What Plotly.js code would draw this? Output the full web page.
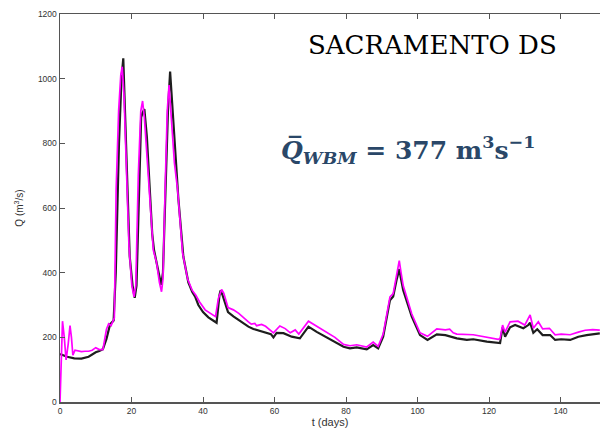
<!DOCTYPE html>
<html>
<head>
<meta charset="utf-8">
<script src="https://cdn.plot.ly/plotly-3.0.1.min.js"></script>
<style>html,body{margin:0;padding:0;background:#fff;}#chart{width:600px;height:432px;}</style>
</head>
<body>
<div id="chart"></div>
<script>
// Observed / reference (black) series
const tBlack = [0,2,4,6,8,10,11,12,13,14,15,15.6,16.5,17.2,17.7,18.2,18.8,19.5,20.3,20.9,21.4,22.1,22.7,23.1,23.6,24.3,25.2,25.8,26.3,27,27.8,28.3,28.8,29.4,30.2,30.8,31.5,32.2,33.1,34.5,35.9,37,37.8,38.7,40,41.5,43,43.8,44.6,44.9,45.5,47,48.5,50,52.7,54.1,57.3,59,59.7,60.6,62.5,64.8,67.1,69.5,71.8,75.1,76.9,79.3,81.1,83,85.8,87.6,89,90.4,92.3,93.2,94.2,94.9,95.4,96,98.4,100.7,102.8,105.4,107.8,111,113.8,115.6,119.4,122.6,123.1,123.8,124.5,125.9,127.3,129.6,131,131.5,132.4,133.5,135,137.1,138.5,140.2,142.7,145,147.3,151];
const qBlack = [148,140,135,134,140,154,158,163,195,240,252,400,800,1000,1063,900,650,450,360,322,360,690,880,895,906,820,656,520,470,430,380,362,400,650,900,1022,900,760,630,450,370,340,326,300,278,262,252,245,330,345,330,278,265,254,233,226,217,210,200,214,213,202,197,233,217,197,185,171,166,169,163,176,166,202,315,326,380,411,380,346,264,207,192,209,207,197,192,194,187,181,182,231,202,231,238,228,238,245,214,225,207,207,192,194,192,202,207,212];

// Model (magenta) series
const tMagenta = [0,0.3,0.7,1.2,1.7,2.3,2.8,3.2,3.6,4.2,5,6,7,8,9,10,11,12,13,13.6,14.3,15.2,15.7,16.4,17,17.4,17.9,18.6,19.3,20.1,20.7,21.2,21.9,22.6,23.1,23.6,24.2,24.9,25.6,26.1,27,27.8,28.4,28.8,29.4,30,30.5,31.2,32,32.9,34.3,35.7,37,38,39,40.6,42,43.5,44.3,45.2,45.8,47,48.5,50,52.7,53.5,54.5,55,56.4,57.5,59.7,61.5,63,64.4,65.8,66.8,69.5,71.8,75,76.9,79.3,81.1,83,85.8,87.6,89,90.4,92.3,93.2,94.2,94.9,95.4,96,98.4,100.7,102.8,105.4,107.8,109,110,111,115.6,119.4,122.6,123.1,123.8,124.5,125.9,128.1,130,131.5,132.4,133.8,135,136.9,138.5,140.2,142.7,145,146.9,149,151];
const qMagenta = [0,150,250,200,130,180,236,200,145,160,158,156,157,157,160,168,162,162,225,242,236,260,656,900,1010,1037,950,700,480,360,325,360,700,900,931,880,780,656,520,470,432,370,341,380,656,900,980,880,740,656,460,380,345,330,310,285,274,264,320,348,337,292,285,274,248,241,243,236,240,234,214,235,227,214,223,210,250,235,215,200,178,174,177,170,185,172,210,325,335,400,437,400,360,272,214,203,226,223,225,214,210,208,200,194,196,238,216,248,250,238,269,228,248,226,228,208,210,208,216,222,224,222];

const xTicks = [0,20,40,60,80,100,120,140];
const yTicks = [0,200,400,600,800,1000,1200];
const stationName = "SACRAMENTO DS";
const meanLabel = "<b><i>Q̅</i><sub><i>WBM</i></sub> = 377 m<sup>3</sup>s<sup>−1</sup></b>";

const traces = [
  {x: tBlack, y: qBlack, type: 'scatter', mode: 'lines', line: {color: '#1e1e1e', width: 2.2}, showlegend: false},
  {x: tMagenta, y: qMagenta, type: 'scatter', mode: 'lines', line: {color: '#ff00ff', width: 1.7}, showlegend: false}
];

const axisFont = {family: 'Liberation Sans, Arial, sans-serif', size: 8.5, color: '#333'};

const layout = {
  width: 600, height: 432,
  margin: {l: 60, r: 0, t: 14, b: 30, pad: 0},
  paper_bgcolor: '#fff', plot_bgcolor: '#fff',
  xaxis: {
    range: [0, 151.05], tickvals: xTicks, ticktext: xTicks.map(String),
    ticks: 'inside', ticklen: 5, tickcolor: '#555', tickwidth: 1,
    showline: true, linecolor: '#555', linewidth: 1.5, mirror: 'ticks',
    showgrid: false, zeroline: false, tickfont: axisFont,
    title: {text: 't (days)', font: {family: 'Liberation Sans, Arial, sans-serif', size: 11, color: '#333'}, standoff: 2}
  },
  yaxis: {
    range: [0, 1200], tickvals: yTicks, ticktext: yTicks.map(String),
    ticks: 'inside', ticklen: 5, tickcolor: '#555', tickwidth: 1,
    showline: true, linecolor: '#555', linewidth: 1.5,
    showgrid: false, zeroline: false, tickfont: axisFont,
    title: {text: 'Q (m<sup>3</sup>/s)', font: {family: 'Liberation Sans, Arial, sans-serif', size: 10, color: '#333'}, standoff: 12}
  },
  annotations: [
    {xref: 'paper', yref: 'paper', x: (432 - 60) / 540, y: (402 - 45) / 388, xanchor: 'center', yanchor: 'middle',
     text: stationName, showarrow: false, font: {family: 'DejaVu Serif, serif', size: 26, color: '#000'}},
    {xref: 'paper', yref: 'paper', x: (408 - 60) / 540, y: (402 - 150) / 388, xanchor: 'center', yanchor: 'middle',
     text: meanLabel, showarrow: false, font: {family: 'DejaVu Serif, serif', size: 25, color: '#2a4768'}}
  ]
};

Plotly.newPlot('chart', traces, layout, {staticPlot: true, displayModeBar: false});
</script>
</body>
</html>
